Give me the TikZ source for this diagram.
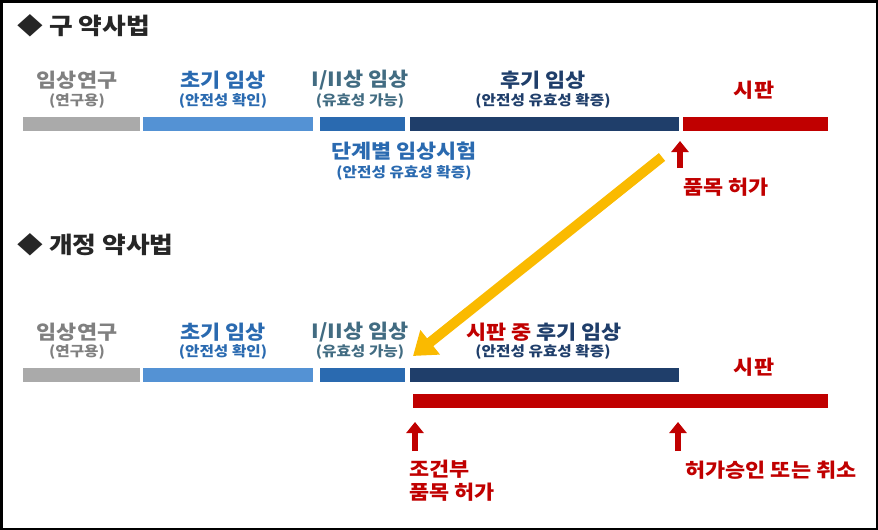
\documentclass[tikz,border=0pt]{standalone}
\usepackage{fontspec}
\setmainfont{Noto Sans CJK KR}[FakeStretch=1.12]
\usetikzlibrary{arrows.meta}
\tikzset{>=latex}
\definecolor{barGray}{RGB}{170,170,170}
\definecolor{lightBlue}{RGB}{84,146,212}
\definecolor{midBlue}{RGB}{42,106,176}
\definecolor{navy}{RGB}{31,62,106}
\definecolor{sellRed}{RGB}{192,0,0}
\definecolor{amber}{RGB}{250,186,0}
\definecolor{labGray}{RGB}{128,128,128}
\definecolor{slate}{RGB}{66,108,130}
\definecolor{titleGray}{RGB}{38,38,38}

\begin{document}
\begin{tikzpicture}[x=1pt, y=-1pt,
    phase/.style={font=\fontsize{19.5}{22}\selectfont\bfseries},
    sub/.style={font=\fontsize{14}{16}\selectfont\bfseries},
    heading/.style={anchor=west, text=titleGray, font=\fontsize{23}{26}\selectfont\bfseries},
    uparrow/.style={draw=sellRed, line width=6pt, -{Triangle[length=11pt, width=17pt]}}]
    \useasboundingbox (0, 0) rectangle (878, 530);
    \draw[line width=2.5pt](1.25, 1.25) rectangle (876.75, 528.75);

    \node[heading] (oldTitle) at (14, 26) {◆ 구 약사법};
    \node[heading] (newTitle) at (14, 245) {◆ 개정 약사법};

    % old law
    \begin{scope}
        \node[phase, text=labGray] (oldResearch) at (77, 80) {임상연구};
        \node[sub, text=labGray] (oldResearchSub) at (77, 101) {(연구용)};
        \node[phase, text=midBlue] (oldEarly) at (223, 80) {초기 임상};
        \node[sub, text=midBlue] (oldEarlySub) at (223, 101) {(안전성 확인)};
        \node[phase, text=slate] (oldMid) at (360, 80) {I/II상 임상};
        \node[sub, text=slate] (oldMidSub) at (360, 101) {(유효성 가능)};
        \node[phase, text=navy] (oldLate) at (543, 80) {후기 임상};
        \node[sub, text=navy] (oldLateSub) at (543, 101) {(안전성 유효성 확증)};
        \node[phase, text=sellRed] (oldMarket) at (754, 90) {시판};
        \fill[barGray](23, 117) rectangle (140, 131);
        \fill[lightBlue](143, 117) rectangle (313, 131);
        \fill[midBlue](320, 117) rectangle (405, 131);
        \fill[navy](410, 117) rectangle (679, 131);
        \fill[sellRed](683, 117) rectangle (828, 131);
        \node[phase, text=midBlue] (stepwise) at (404, 151) {단계별 임상시험};
        \node[sub, text=midBlue] (stepwiseSub) at (404, 173) {(안전성 유효성 확증)};
        \coordinate (oldPermitBase) at (680, 168);
        \coordinate (oldPermitTip) at (680, 141);
        \draw[uparrow](oldPermitBase) -- (oldPermitTip);
        \node[phase, text=sellRed, anchor=west] (oldPermit) at (680, 187) {품목 허가};
        \coordinate (shiftStart) at (662, 157);
    \end{scope}

    % revised law
    \begin{scope}[yshift=-251pt]
        \node[phase, text=labGray] (newResearch) at (77, 81) {임상연구};
        \node[sub, text=labGray] (newResearchSub) at (77, 101) {(연구용)};
        \node[phase, text=midBlue] (newEarly) at (223, 81) {초기 임상};
        \node[sub, text=midBlue] (newEarlySub) at (223, 101) {(안전성 확인)};
        \node[phase, text=slate] (newMid) at (360, 81) {I/II상 임상};
        \node[sub, text=slate] (newMidSub) at (360, 101) {(유효성 가능)};
        \node[phase] (newLate) at (544, 81) {\textcolor{sellRed}{시판 중} \textcolor{navy}{후기 임상}};
        \node[sub, text=navy] (newLateSub) at (543, 101) {(안전성 유효성 확증)};
        \node[phase, text=sellRed] (newMarket) at (754, 116) {시판};
        \fill[barGray](23, 117) rectangle (140, 131);
        \fill[lightBlue](143, 117) rectangle (313, 131);
        \fill[midBlue](320, 117) rectangle (405, 131);
        \fill[navy](410, 117) rectangle (679, 131);
        \fill[sellRed](413, 143) rectangle (828, 157);
        \coordinate (condBase) at (415, 200);
        \coordinate (condTip) at (415, 171);
        \draw[uparrow](condBase) -- (condTip);
        \coordinate (finalBase) at (678, 200);
        \coordinate (finalTip) at (678, 171);
        \draw[uparrow](finalBase) -- (finalTip);
        \node[phase, text=sellRed, anchor=north west, align=left,
            font=\fontsize{19.5}{23}\selectfont\bfseries] (condPermit) at (406, 206) {조건부\\품목 허가};
        \node[phase, text=sellRed, anchor=west] (finalPermit) at (682, 219) {허가승인 또는 취소};
        \coordinate (shiftEnd) at (413, 105);
    \end{scope}

    \draw[amber, line width=10pt, -{Triangle[length=22pt, width=30pt]}](shiftStart) -- (shiftEnd);
\end{tikzpicture}
\end{document}
